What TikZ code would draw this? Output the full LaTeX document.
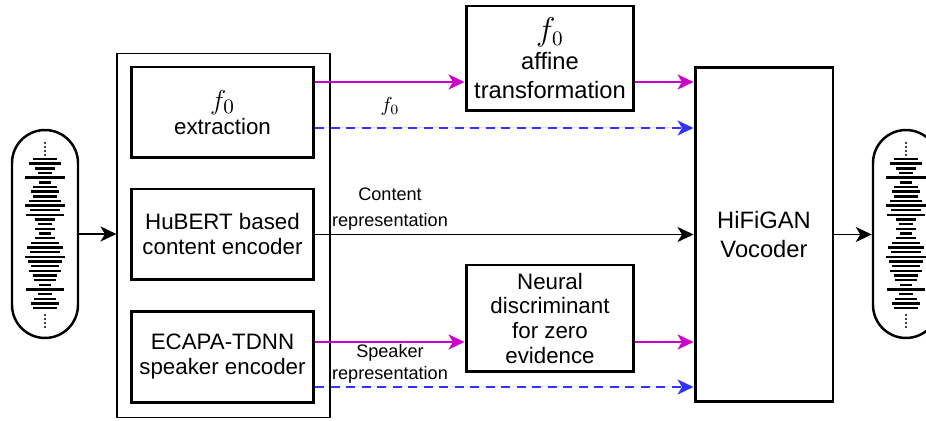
\documentclass[tikz,border=0pt]{standalone}
\usepackage{amsmath}
\usepackage{fontspec}
\setmainfont{Liberation Sans}
\usetikzlibrary{arrows.meta}

\definecolor{fmag}{HTML}{CC00CC}
\definecolor{fblue}{HTML}{3333FF}

\tikzset{
    blockbox/.style={draw,line width=1.7pt,align=center,inner sep=0pt,
        minimum width=3.66cm,minimum height=1.82cm,font=\fontsize{12.7}{14.2}\selectfont},
    wavepill/.style={draw,line width=1.4pt,rounded corners=0.66cm,
        minimum width=1.32cm,minimum height=4.16cm},
    lbl/.style={align=center,inner sep=0pt,font=\fontsize{10.3}{15}\selectfont},
    tip/.style={-{Stealth[length=0.32cm,width=0.3cm,inset=0.09cm]}},
    blkarrow/.style={tip,line width=1pt},
    magarrow/.style={tip,draw=fmag,fill=fmag,line width=1.3pt},
    bluearrow/.style={tip,draw=fblue,fill=fblue,line width=1.3pt,dash pattern=on 0.18cm off 0.13cm}
}

% waveform bars and dots round a centre x
\newcommand{\wavebars}[1]{
    \foreach \hw [count=\i from 0] in {12,16,10,7,20,6,12,14,12,16,20,15,19,10,7,10,6,10,14,18,15,20,17,14,16,12,11,6,19,7,11,14,12}
        \draw[line width=1.4pt] (#1-\hw,159+4.66*\i) -- (#1+\hw,159+4.66*\i);
    \foreach \d in {143,147,151,155,315,319,323,327}
        \fill (#1,\d) circle (0.7pt);
}
\newcommand{\bigfz}{\scalebox{1.3}{$f_0$}}

\begin{document}
\begin{tikzpicture}[x=0.02cm,y=-0.02cm]
    \useasboundingbox (0,0) rectangle (926,421);

    % input and output speech
    \node[wavepill] (lwave) at (45,234) {};
    \wavebars{45}
    \node[wavepill] (rwave) at (906,234) {};
    \wavebars{906}

    % encoders
    \node[draw,line width=0.6pt,minimum width=4.26cm,minimum height=7.3cm] (enc) at (223.5,235.5) {};
    \node[blockbox] (fext) at (222.5,112.5) {\bigfz\\extraction};
    \node[blockbox] (hubert) at (222.5,234.5) {HuBERT based\\content encoder};
    \node[blockbox] (ecapa) at (222.5,357) {ECAPA-TDNN\\speaker encoder};

    % middle blocks
    \node[blockbox,minimum width=3.36cm,minimum height=2.1cm,font=\fontsize{13.5}{16.5}\selectfont] (affine) at (550,58.5) {\bigfz\\affine\\transformation};
    \node[blockbox,minimum width=3.36cm,minimum height=2.14cm] (neural) at (550,318.5) {Neural\\discriminant\\for zero\\evidence};
    \node[blockbox,minimum width=2.76cm,minimum height=6.7cm,font=\fontsize{13.5}{16.5}\selectfont] (hifi) at (764,234.5) {HiFiGAN\\Vocoder};

    % labels
    \node[lbl] (f0lbl) at (390,106) {\scalebox{1.15}{$f_0$}};
    \node[lbl] (contlbl) at (390,209) {Content\\representation};
    \node[lbl,font=\fontsize{10.3}{12.5}\selectfont] (spklbl) at (390,363.5) {Speaker\\representation};

    % rows of the arrows
    \coordinate (ftop) at (0,82);
    \coordinate (fbot) at (0,128);
    \coordinate (stop) at (0,342);
    \coordinate (sbot) at (0,387);

    \draw[blkarrow] (lwave.east) -- (lwave.east -| enc.west);
    \draw[magarrow] (fext.east |- ftop) -- (affine.west |- ftop);
    \draw[magarrow] (affine.east |- ftop) -- (hifi.west |- ftop);
    \draw[bluearrow] (fext.east |- fbot) -- (hifi.west |- fbot);
    \draw[blkarrow] (hubert.east) -- (hubert.east -| hifi.west);
    \draw[magarrow] (ecapa.east |- stop) -- (neural.west |- stop);
    \draw[magarrow] (neural.east |- stop) -- (hifi.west |- stop);
    \draw[bluearrow] (ecapa.east |- sbot) -- (hifi.west |- sbot);
    \draw[blkarrow] (hifi.east) -- (hifi.east -| rwave.west);
\end{tikzpicture}
\end{document}
